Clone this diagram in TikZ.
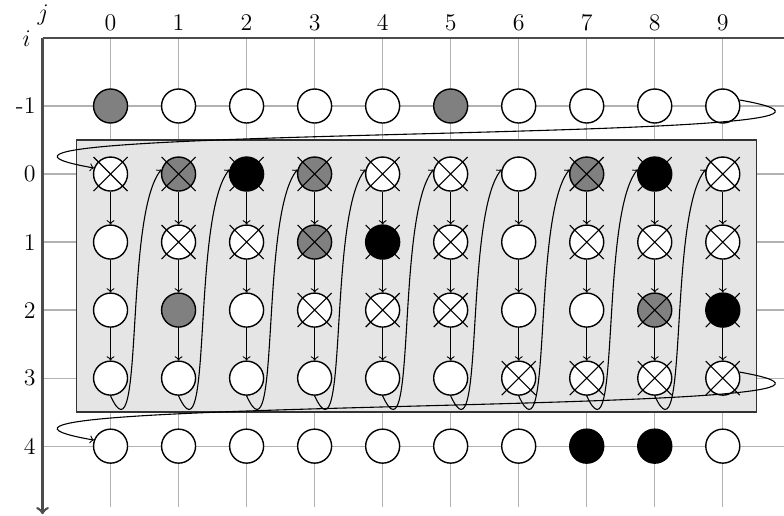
\documentclass[tikz,border=0pt]{standalone}
\begin{document}
\begin{tikzpicture}[
  font=\large,
  cell/.style={circle, draw=black, line width=0.7pt, minimum size=0.6cm, inner sep=0pt},
  wc/.style={cell, fill=white},
  gc/.style={cell, fill=gray},
  bc/.style={cell, fill=black},
  gridline/.style={gray!60, line width=0.6pt},
  axisline/.style={black!70, line width=1.3pt},
  conn/.style={->, line width=0.55pt, black},
  crossline/.style={black, line width=0.55pt}
]
\useasboundingbox (-1.95,-6.02) rectangle (11.88,3.07);
% grid
\foreach \j in {0,...,9} \draw[gridline] (1.2*\j,2.4) -- (1.2*\j,-5.88);
\foreach \i in {-1,...,4} \draw[gridline] (-1.2,-1.2*\i) -- (11.88,-1.2*\i);
% axes
\draw[axisline] (-1.2,2.4) -- (11.88,2.4);
\draw[axisline,->] (-1.2,2.4) -- (-1.2,-6.0);
\node (lj) at (-1.19,2.80) {$j$};
\node (li) at (-1.48,2.38) {$i$};
\foreach \j in {0,...,9} \node[above] (cl\j) at (1.2*\j,2.4) {\j};
\foreach \i in {-1,...,4} \node[left] (rl\i) at (-1.2,-1.2*\i) {\i};
% block
\draw[fill=gray!20, draw=black!80, line width=0.7pt] (-0.6,0.6) rectangle (11.4,-4.2);
% nodes
\foreach \i/\row in {
  -1/{gc,wc,wc,wc,wc,gc,wc,wc,wc,wc},
  0/{wc,gc,bc,gc,wc,wc,wc,gc,bc,wc},
  1/{wc,wc,wc,gc,bc,wc,wc,wc,wc,wc},
  2/{wc,gc,wc,wc,wc,wc,wc,wc,gc,bc},
  3/{wc,wc,wc,wc,wc,wc,wc,wc,wc,wc},
  4/{wc,wc,wc,wc,wc,wc,wc,bc,bc,wc}}{
  \foreach \s [count=\j from 0] in \row {
    \node[\s] (n\i-\j) at (1.2*\j,-1.2*\i) {};
  }
}
% crosses
\foreach \i/\j in {0/0,0/1,0/2,0/3,0/4,0/5,0/7,0/8,0/9,
  1/1,1/2,1/3,1/4,1/5,1/7,1/8,1/9,
  2/3,2/4,2/5,2/8,2/9,
  3/6,3/7,3/8,3/9}{
  \draw[crossline] (n\i-\j.center) +(-0.3,-0.3) -- +(0.3,0.3) +(-0.3,0.3) -- +(0.3,-0.3);
}
% vertical arrows
\foreach \j in {0,...,9}{
  \foreach \i in {0,1,2}{
    \pgfmathtruncatemacro\k{\i+1}
    \draw[conn] (n\i-\j) -- (n\k-\j);
  }
}
% column wrap curves
\foreach \j in {0,...,8}{
  \pgfmathtruncatemacro\k{\j+1}
  \draw[conn] (n3-\j.south) .. controls +(0.6,-1.32) and +(-0.67,-0.81) .. (n0-\k.165);
}
% long wrap curves
\draw[conn] (n-1-9.20) to[out=-10,in=170] (n0-0.160);
\draw[conn] (n3-9.20) to[out=-10,in=170] (n4-0.160);
\end{tikzpicture}
\end{document}
